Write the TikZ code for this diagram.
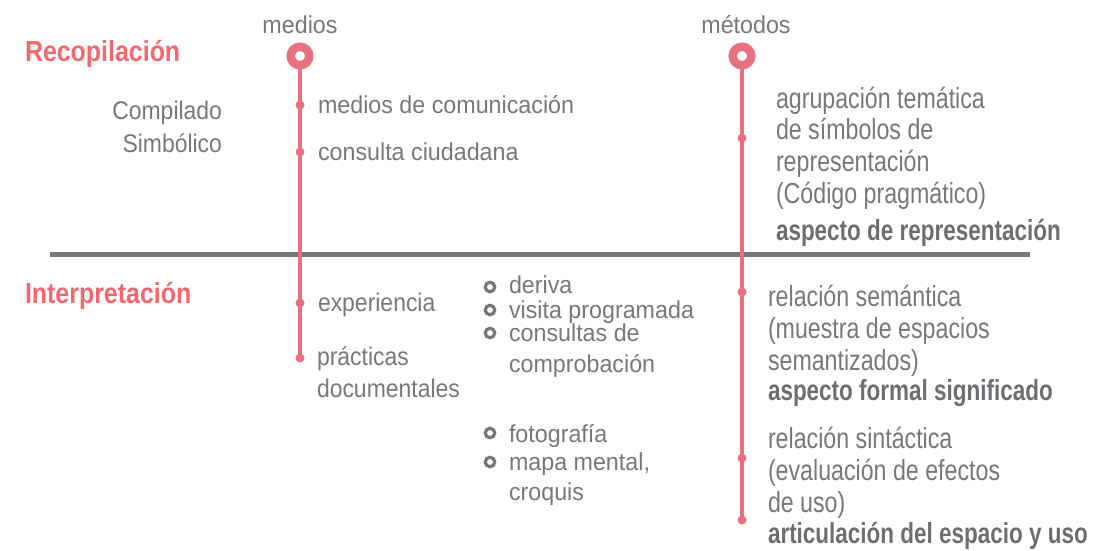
\documentclass[tikz,border=0pt]{standalone}
\usepackage{fontspec}
\setmainfont{Liberation Sans}
\newfontfamily\fR[FakeStretch=0.80]{Liberation Sans}
\newfontfamily\fB[FakeStretch=0.775]{Liberation Sans}
\newfontfamily\fH[FakeStretch=0.86]{Liberation Sans}
\newfontfamily\fS[FakeStretch=0.95]{Liberation Sans}
\newfontfamily\fC[FakeStretch=0.90]{Liberation Sans}
\definecolor{pinkl}{HTML}{E8717F}
\definecolor{pinkh}{HTML}{F4676F}
\definecolor{txt}{HTML}{77787B}
\definecolor{txtb}{HTML}{6D6E71}
\definecolor{rule}{HTML}{77787B}
\begin{document}
\begin{tikzpicture}[x=1pt,y=-1pt,
  every node/.style={inner sep=0pt,outer sep=0pt},
  head/.style={anchor=base west,text=pinkh,font=\fH\bfseries\fontsize{29}{32}\selectfont},
  rtxt/.style={anchor=base west,text=txt,font=\fR\fontsize{29}{32}\selectfont},
  rbold/.style={anchor=base west,text=txtb,font=\fB\bfseries\fontsize{29}{32}\selectfont},
  stxt/.style={anchor=base west,text=txt,font=\fS\fontsize{24.5}{28}\selectfont},
  ltxt/.style={anchor=base west,text=txt,font=\fC\fontsize{25.5}{30}\selectfont},
  toplab/.style={anchor=base,text=txt,font=\fS\fontsize{24.5}{28}\selectfont},
  bigring/.style={circle,draw=pinkl,line width=8.5pt,fill=white,minimum size=18.5pt},
  tdot/.style={circle,fill=pinkl,minimum size=9pt},
  oring/.style={circle,draw=txt,line width=3.2pt,minimum size=9.5pt},
  vline/.style={draw=pinkl,line width=3.2pt},
]
\useasboundingbox (0,0) rectangle (1113,550);

% horizontal rule
\coordinate (hl) at (50,254);
\coordinate (hr) at (1030,254);
\draw[rule,line width=5pt] (hl) -- (hr);

% headings
\node[head] (recop) at (25,61) {Recopilación};
\node[head] (interp) at (25,303) {Interpretación};

% top labels
\node[toplab] (medios) at (300,33) {medios};
\node[toplab] (metodos) at (746,33) {métodos};

% left timeline
\node[tdot] (l1) at (300,105) {};
\node[tdot] (l2) at (300,152) {};
\node[tdot] (l3) at (300,303) {};
\node[tdot] (l4) at (300,358) {};
\node[bigring] (lc) at (300,56) {};
\draw[vline] (lc.south) -- (l4.center);

% right timeline
\node[tdot] (r1) at (742,138) {};
\node[tdot] (r2) at (742,292) {};
\node[tdot] (r3) at (742,458) {};
\node[tdot] (r4) at (742,520) {};
\node[bigring] (rc) at (742,56) {};
\draw[vline] (rc.south) -- (r4.center);

% Compilado Simbólico
\node[ltxt,anchor=base east] (comp1) at (222,119) {Compilado};
\node[ltxt,anchor=base east] (comp2) at (222,152) {Simbólico};

% left items
\node[stxt] (t1) at (318,113) {medios de comunicación};
\node[stxt] (t2) at (318,160) {consulta ciudadana};
\node[ltxt] (t3) at (318,311) {experiencia};
\node[ltxt] (t4) at (317,365) {prácticas};
\node[ltxt] (t5) at (317,397) {documentales};

% middle items
\node[oring] (m1) at (490,287) {};
\node[oring] (m2) at (490,310) {};
\node[oring] (m3) at (490,333) {};
\node[oring] (m4) at (490,433) {};
\node[oring] (m5) at (490,462) {};
\node[stxt] (mt1) at (509,293) {deriva};
\node[stxt] (mt2) at (509,318) {visita programada};
\node[stxt] (mt3) at (509,341) {consultas de};
\node[stxt] (mt4) at (509,372) {comprobación};
\node[stxt] (mt5) at (509,442) {fotografía};
\node[stxt] (mt6) at (509,470) {mapa mental,};
\node[stxt] (mt7) at (509,500) {croquis};

% right column upper
\node[rtxt] (a1) at (776,108) {agrupación temática};
\node[rtxt] (a2) at (776,139) {de símbolos de};
\node[rtxt] (a3) at (776,171) {representación};
\node[rtxt] (a4) at (776,203) {(Código pragmático)};
\node[rbold] (a5) at (776,240) {aspecto de representación};

% right column lower
\node[rtxt] (b1) at (768,306) {relación semántica};
\node[rtxt] (b2) at (768,338) {(muestra de espacios};
\node[rtxt] (b3) at (768,370) {semantizados)};
\node[rbold] (b4) at (768,400) {aspecto formal significado};
\node[rtxt] (c1) at (768,448) {relación sintáctica};
\node[rtxt] (c2) at (768,480) {(evaluación de efectos};
\node[rtxt] (c3) at (768,512) {de uso)};
\node[rbold] (c4) at (768,543) {articulación del espacio y uso};
\end{tikzpicture}
\end{document}
